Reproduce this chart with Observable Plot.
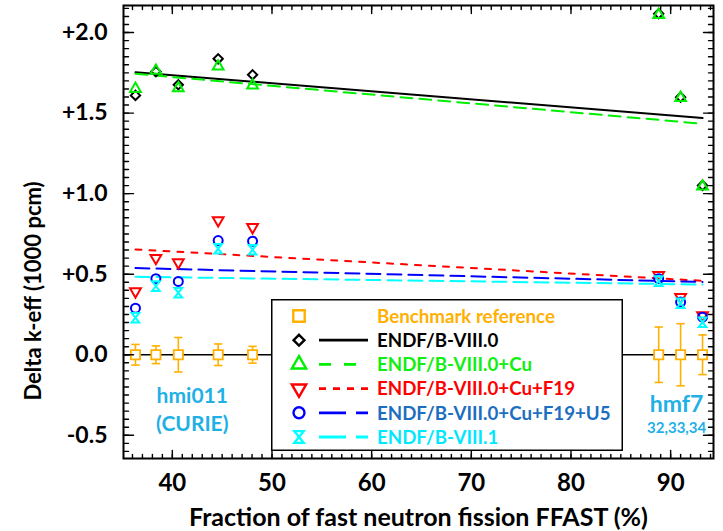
<!DOCTYPE html>
<html><head><meta charset="utf-8">
<script src="https://cdn.jsdelivr.net/npm/d3@7"></script>
<script src="https://cdn.jsdelivr.net/npm/@observablehq/plot@0.6"></script>
<style>
body{margin:0;background:#fff;}
#wrap{position:relative;width:723px;height:531px;font-family:Lato,sans-serif;}
#legend{position:absolute;left:271px;top:299px;}
</style></head>
<body><div id="wrap"><div id="chart"></div><div id="legend"></div></div>
<script>
// ---- data ----
const ffast = [36.3, 38.35, 40.6, 44.6, 48.05, 88.8, 91.0, 93.2];
const benchmark = [0, 0, 0, 0, 0, 0, 0, 0];
const benchmarkErr = [0.064, 0.055, 0.107, 0.067, 0.052, 0.172, 0.193, 0.123];
const endf80 = [1.610, 1.758, 1.676, 1.837, 1.738, 2.117, 1.599, 1.051];
const endf80Cu = [1.651, 1.763, 1.655, 1.790, 1.672, 2.110, 1.595, 1.045];
const endf80CuF19 = [0.393, 0.600, 0.573, 0.834, 0.792, 0.495, 0.358, 0.245];
const endf80CuF19U5 = [0.289, 0.472, 0.455, 0.709, 0.705, 0.472, 0.327, 0.233];
const endf81 = [0.230, 0.426, 0.385, 0.658, 0.652, 0.457, 0.320, 0.202];
// linear trend lines (end points)
const fitX = [36.3, 93.2];
const fit80 = [1.754, 1.469];
const fit80Cu = [1.744, 1.434];
const fit80CuF19 = [0.654, 0.459];
const fit80CuF19U5 = [0.538, 0.452];
const fit81 = [0.484, 0.436];
// axes
const xTicks = [40, 50, 60, 70, 80, 90];
const yTicks = [-0.5, 0, 0.5, 1.0, 1.5, 2.0];
const yTickLabels = ["-0.5", "0.0", "+0.5", "+1.0", "+1.5", "+2.0"];
const xDomain = [35.1, 94.3];
const yDomain = [-0.644, 2.168];
const legendLabels = ["Benchmark reference", "ENDF/B-VIII.0", "ENDF/B-VIII.0+Cu", "ENDF/B-VIII.0+Cu+F19", "ENDF/B-VIII.0+Cu+F19+U5", "ENDF/B-VIII.1"];
const annotations = [
  {x: 42.0, y: -0.255, text: "hmi011", size: 21},
  {x: 42.0, y: -0.43, text: "(CURIE)", size: 21},
  {x: 90.6, y: -0.31, text: "hmf7", size: 23},
  {x: 90.6, y: -0.455, text: "32,33,34", size: 15}
];

// ---- styles ----
const C = {bench: "#FFB000", v80: "#000000", cu: "#00EE00", f19: "#FF0000", u5: "#0000FF", v81: "#00FFFF"};
const textColors = ["#FFB000", "#000000", "#11EE11", "#FF0000", "#1C6EC0", "#00E8FF"];
const annColor = "#1FB0E6";

const hourglass = {draw(ctx, size) { const r = Math.sqrt(size / Math.PI); const w = r * 0.95, h = r * 1.2;
  ctx.moveTo(-w, -h); ctx.lineTo(w, -h); ctx.lineTo(-w, h); ctx.lineTo(w, h); ctx.closePath(); }};
const hline = {draw(ctx, size) { const r = Math.sqrt(size / Math.PI); ctx.moveTo(-r, 0); ctx.lineTo(r, 0); }};
const tickShape = {draw(ctx, l) { ctx.moveTo(0, 0); ctx.lineTo(0, -l); }};

const pts = (ys) => ffast.map((x, i) => ({x, y: ys[i]}));
const fit = (ys) => fitX.map((x, i) => ({x, y: ys[i]}));
const bench = ffast.map((x, i) => ({x, y: benchmark[i], lo: benchmark[i] - benchmarkErr[i], hi: benchmark[i] + benchmarkErr[i]}));

const yMinor = d3.range(-60, 216, 5).map(v => v / 100);
const xMinor = d3.range(36, 95, 1);
const tk = (data, opts) => Plot.vector(data, {shape: tickShape, anchor: "start", stroke: "black", strokeWidth: 1.4, ...opts});

const plot = Plot.plot({
  width: 723, height: 531,
  marginLeft: 123, marginRight: 10, marginTop: 5, marginBottom: 73,
  style: {fontFamily: "Lato, sans-serif", background: "white"},
  x: {domain: xDomain},
  y: {domain: yDomain},
  marks: [
    Plot.ruleY([0], {stroke: "black", strokeWidth: 1.5}),
    Plot.line(fit(fit80), {x: "x", y: "y", stroke: C.v80, strokeWidth: 2}),
    Plot.line(fit(fit80Cu), {x: "x", y: "y", stroke: C.cu, strokeWidth: 2, strokeDasharray: "12,7"}),
    Plot.line(fit(fit80CuF19), {x: "x", y: "y", stroke: C.f19, strokeWidth: 2, strokeDasharray: "6,8"}),
    Plot.line(fit(fit80CuF19U5), {x: "x", y: "y", stroke: C.u5, strokeWidth: 2, strokeDasharray: "14,7"}),
    Plot.line(fit(fit81), {x: "x", y: "y", stroke: C.v81, strokeWidth: 2, strokeDasharray: "14,7"}),
    Plot.ruleX(bench, {x: "x", y1: "lo", y2: "hi", stroke: C.bench, strokeWidth: 1.6}),
    Plot.dot(bench, {x: "x", y: "lo", symbol: hline, r: 4.2, stroke: C.bench, strokeWidth: 1.6}),
    Plot.dot(bench, {x: "x", y: "hi", symbol: hline, r: 4.2, stroke: C.bench, strokeWidth: 1.6}),
    Plot.dot(bench, {x: "x", y: "y", symbol: "square", r: 5.2, stroke: C.bench, fill: "white", strokeWidth: 1.8}),
    Plot.dot(pts(endf80), {x: "x", y: "y", symbol: "diamond2", r: 4.2, stroke: C.v80, strokeWidth: 2}),
    Plot.dot(pts(endf80Cu), {x: "x", y: "y", symbol: "triangle", r: 4, stroke: C.cu, strokeWidth: 2}),
    Plot.dot(pts(endf80CuF19), {x: "x", y: "y", symbol: "triangle", rotate: 180, r: 4, stroke: C.f19, strokeWidth: 2}),
    Plot.dot(pts(endf80CuF19U5), {x: "x", y: "y", symbol: "circle", r: 4.5, stroke: C.u5, strokeWidth: 2}),
    Plot.dot(pts(endf81), {x: "x", y: "y", symbol: hourglass, r: 4, stroke: C.v81, strokeWidth: 2}),
    Plot.text(annotations, {x: "x", y: "y", text: "text", fontSize: "size", fill: annColor, fontWeight: "bold"}),
    // axis tick labels
    Plot.axisX({ticks: xTicks, tickSize: 0, tickPadding: 15, fontSize: 24, fontWeight: "bold", label: null, tickFormat: d => String(d)}),
    Plot.axisY({ticks: yTicks, tickSize: 0, tickPadding: 16, fontSize: 23, fontWeight: "bold", label: null, tickFormat: d => yTickLabels[yTicks.indexOf(d)]}),
    // inward ticks
    tk(yTicks, {y: d => d, frameAnchor: "left", rotate: 90, length: 10}),
    tk(yMinor, {y: d => d, frameAnchor: "left", rotate: 90, length: 5}),
    tk(yTicks, {y: d => d, frameAnchor: "right", rotate: -90, length: 10}),
    tk(yMinor, {y: d => d, frameAnchor: "right", rotate: -90, length: 5}),
    tk(xTicks, {x: d => d, frameAnchor: "bottom", rotate: 0, length: 8}),
    tk(xMinor, {x: d => d, frameAnchor: "bottom", rotate: 0, length: 4}),
    tk(xTicks, {x: d => d, frameAnchor: "top", rotate: 180, length: 8}),
    tk(xMinor, {x: d => d, frameAnchor: "top", rotate: 180, length: 4}),
    Plot.frame({stroke: "black", strokeWidth: 2}),
    // axis titles
    Plot.text(["Fraction of fast neutron fission FFAST (%)"], {text: d => d, frameAnchor: "bottom", textAnchor: "middle", lineAnchor: "middle", dy: 59, fontSize: 25, fontWeight: "bold", fill: "black"}),
    Plot.text(["Delta k-eff (1000 pcm)"], {text: d => d, frameAnchor: "left", textAnchor: "middle", lineAnchor: "middle", dx: -90, dy: 59, rotate: -90, fontSize: 22, fontWeight: "bold", fill: "black"})
  ]
});
document.getElementById("chart").appendChild(plot);

// ---- legend (inside the plot area) ----
const lw = 352, lh = 152;
const svg = d3.select("#legend").append("svg").attr("width", lw).attr("height", lh)
  .style("font-family", "Lato, sans-serif");
svg.append("rect").attr("x", 0.75).attr("y", 0.75).attr("width", lw - 1.5).attr("height", lh - 1.5)
  .attr("fill", "white").attr("stroke", "black").attr("stroke-width", 1.5);
const rows = [
  {sym: d3.symbolSquare, size: 130, color: C.bench, rot: 0, dash: null},
  {sym: d3.symbolDiamond2, size: 75, color: C.v80, rot: 0, dash: ""},
  {sym: d3.symbolTriangle, size: 90, color: C.cu, rot: 0, dash: "12,13"},
  {sym: d3.symbolTriangle, size: 90, color: C.f19, rot: 180, dash: "7,7"},
  {sym: d3.symbolCircle, size: 95, color: C.u5, rot: 0, dash: "27,10"},
  {sym: hourglass, size: 75, color: C.v81, rot: 0, dash: "27,10"}
];
rows.forEach((r, i) => {
  const cy = 17 + i * 24.2;
  svg.append("path").attr("d", d3.symbol(r.sym, r.size)())
    .attr("transform", `translate(28,${cy}) rotate(${r.rot})`)
    .attr("fill", "none").attr("stroke", r.color).attr("stroke-width", 2.4);
  if (r.dash !== null) {
    svg.append("line").attr("x1", 48).attr("x2", 97).attr("y1", cy).attr("y2", cy)
      .attr("stroke", r.color).attr("stroke-width", 2.8).attr("stroke-dasharray", r.dash || null);
  }
  svg.append("text").attr("x", 106).attr("y", cy).attr("dy", "0.36em")
    .attr("font-size", 18.7).attr("font-weight", "bold").attr("fill", textColors[i]).text(legendLabels[i]);
});
</script>
</body></html>
